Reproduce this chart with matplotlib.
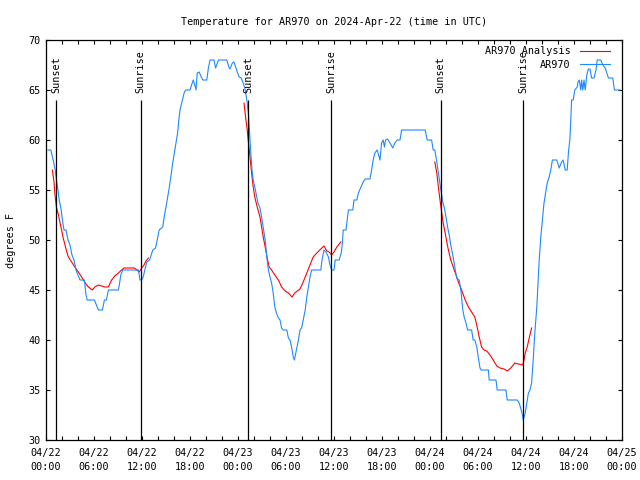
import numpy as np
import pandas as pd
import matplotlib
matplotlib.use('Agg')
import matplotlib.pyplot as plt
import matplotlib.dates as mdates

# hours after 2024-04-22 00:00 UTC
obs_hours = [0.25, 0.6, 0.9, 1.15, 1.3, 1.5, 1.65, 1.9, 2.05, 2.25, 2.5, 2.75, 3.0, 3.25, 3.5, 3.75, 4.0, 4.25,
             4.8, 5.0, 5.15, 6.05, 6.3, 6.55, 7.05, 7.3, 7.55, 7.8, 9.05, 9.2, 9.35, 9.6, 11.55, 11.75, 11.95,
             12.15, 12.35, 12.6, 12.95, 13.15, 13.35, 13.7, 13.9, 14.15, 14.6, 14.75, 15.0, 15.4, 15.6, 15.8,
             16.0, 16.2, 16.45, 16.6, 16.75, 17.05, 17.3, 17.5, 18.0, 18.2, 18.4, 18.6, 18.75, 18.9, 19.15,
             19.35, 19.6, 20.1, 20.3, 20.5, 21.0, 21.2, 21.55, 22.6, 22.9, 23.0, 23.3, 23.5, 23.75, 23.95,
             24.15, 24.4, 24.6, 24.8, 24.9, 25.1, 25.3, 25.4, 25.5, 25.6, 25.75, 25.9, 26.1, 26.3, 26.5, 26.75,
             26.95, 27.15, 27.4, 27.6, 27.8, 28.0, 28.2, 28.4, 28.6, 28.8, 29.05, 29.25, 29.45, 29.65, 30.1,
             30.3, 30.5, 30.7, 30.9, 31.05, 31.25, 31.55, 31.75, 31.95, 32.15, 32.4, 32.6, 32.8, 33.0, 33.2,
             34.35, 34.5, 34.75, 35.0, 35.3, 35.5, 35.7, 36.0, 36.15, 36.65, 36.9, 37.05, 37.15, 37.5, 37.65,
             37.8, 38.35, 38.5, 38.85, 39.05, 39.65, 39.9, 40.5, 40.7, 40.9, 41.1, 41.4, 41.65, 41.75, 41.95,
             42.15, 42.3, 42.45, 42.7, 43.0, 43.35, 43.6, 43.9, 44.25, 44.45, 47.4, 47.65, 48.2, 48.4, 48.6,
             48.85, 49.05, 49.4, 49.6, 49.8, 50.0, 50.2, 50.4, 50.6, 50.8, 51.0, 51.2, 51.4, 51.65, 51.9, 52.1,
             52.3, 52.5, 52.7, 53.2, 53.4, 53.6, 53.85, 54.05, 54.25, 54.4, 55.3, 55.4, 56.25, 56.4, 57.5,
             57.65, 58.9, 59.15, 59.4, 59.6, 59.65, 59.9, 60.1, 60.3, 60.5, 60.7, 60.9, 61.1, 61.35, 61.55,
             61.65, 61.85, 62.05, 62.25, 62.45, 62.65, 62.9, 63.1, 63.3, 63.85, 64.15, 64.45, 64.65, 64.9,
             65.15, 65.3, 65.5, 65.7, 65.9, 66.1, 66.4, 66.5, 66.65, 66.85, 66.95, 67.1, 67.25, 67.4, 67.6,
             67.8, 68.0, 68.2, 68.5, 68.75, 68.9, 69.35, 69.6, 69.9, 70.1, 70.3, 70.85, 71.05, 71.75]
obs_temp = [59, 59, 58, 57, 56, 55, 54, 53, 52, 51, 51, 50, 49.5, 48.5, 48, 47, 46.5, 46,
            46, 44.5, 44, 44, 43.5, 43, 43, 44, 44, 45, 45, 45.7, 46.5, 47, 47, 46, 46,
            46.3, 47, 47.8, 48, 48.5, 49, 49.2, 50, 51, 51.3, 52.2, 53.3, 55.2, 56.3, 57.5,
            58.5, 59.5, 60.7, 62, 63, 64, 64.8, 65, 65, 65.5, 66, 65.5, 65, 66.7, 66.8,
            66.4, 66, 66, 67.2, 68, 68, 67.2, 68, 68, 67.2, 67.1, 67.7, 67.8, 67.2, 66.7,
            66.3, 66.2, 65.8, 65.3, 65, 64, 62.7, 61.3, 60, 58.7, 57, 56, 55.3, 54.5, 53.7, 53.2,
            52.3, 51.3, 50, 48.3, 47, 46.3, 45.7, 44.7, 43.3, 42.7, 42.2, 42, 41.2, 41, 41,
            40.2, 40, 39.3, 38.3, 38, 38.8, 40, 41, 41.2, 42, 43, 44.3, 45.3, 46.3, 47,
            47, 48, 49, 48.8, 48.3, 47.5, 47, 47, 48, 48, 48.7, 49.7, 51, 51, 52,
            53, 53, 54, 54, 54.7, 55.8, 56.1, 56.1, 57, 58, 58.7, 59, 58.3, 58, 59.7,
            60, 59.3, 60, 60.1, 59.7, 59.2, 59.7, 60, 60, 61, 61, 60, 60, 59, 59,
            57.8, 56.7, 54.8, 53.8, 53.2, 52.3, 51.3, 50.5, 49.5, 48.7, 47.8, 46.8, 46.1, 46, 44.7,
            43, 42.2, 41.7, 41, 41, 40, 40, 39.3, 38.2, 37.2, 37, 37, 36, 36, 35,
            35, 34, 34, 33.7, 33, 32.3, 32, 32.7, 33.7, 34.7, 35, 35.7, 38, 40.7, 43.3, 46.3,
            48, 50.3, 52, 53.7, 54.7, 55.7, 56.3, 57, 58, 58, 57.2, 57.8, 58, 57,
            57, 58.7, 60.2, 64, 64, 65, 65.3, 65.8, 66, 65, 66, 65, 66, 65, 66.5,
            67.1, 67.1, 66.2, 66.2, 67, 68, 68, 67.5, 67.2, 66.7, 66.2, 66.2, 65, 65]

ana1_hours = [0.8, 1.0, 1.1, 1.3, 1.55, 1.95, 2.15, 2.6, 2.8, 3.2, 3.6, 4.05, 4.45, 4.9, 5.3, 5.8, 6.1,
              6.55, 6.95, 7.4, 7.8, 8.2, 8.6, 9.05, 9.45, 9.75, 11.05, 11.35, 11.65, 11.95, 12.25, 12.5, 12.8]
ana1_temp = [57, 55.8, 54.7, 53.3, 52.5, 51, 50.2, 48.8, 48.3, 47.8, 47.3, 46.8, 46.3, 45.7, 45.3, 45.0, 45.3,
             45.5, 45.4, 45.3, 45.3, 46, 46.4, 46.7, 47, 47.2, 47.2, 47.0, 46.8, 47.2, 47.5, 47.9, 48.2]
ana2_hours = [24.75, 24.95, 25.15, 25.3, 25.5, 25.7, 25.9, 26.1, 26.4, 26.75, 26.95, 27.15, 27.4, 27.65,
              27.9, 28.2, 28.6, 29.05, 29.45, 29.9, 30.3, 30.75, 31.1, 31.75, 32.15, 32.6, 33.0, 33.4,
              33.85, 34.35, 34.75, 35.1, 35.4, 35.7, 36.0, 36.35, 36.85]
ana2_temp = [63.7, 62.3, 61, 59.8, 58.3, 56.7, 55.3, 54.3, 53.3, 52.3, 51.3, 50.3, 49.3, 48.2,
             47.3, 47, 46.5, 46, 45.3, 44.9, 44.7, 44.3, 44.7, 45.1, 45.8, 46.7, 47.5, 48.3,
             48.7, 49.1, 49.4, 48.9, 48.8, 48.5, 48.8, 49.3, 49.8]
ana3_hours = [48.6, 48.85, 49.05, 49.25, 49.45, 49.65, 49.9, 50.1, 50.3, 50.6, 50.9, 51.25, 51.55, 51.95,
              52.4, 52.8, 53.2, 53.6, 53.9, 54.15, 54.45, 54.75, 55.1, 55.5, 55.9, 56.35, 56.75, 57.25,
              57.65, 58.1, 58.6, 59.05, 59.6, 59.75, 59.9, 60.15, 60.4, 60.7]
ana3_temp = [57.8, 56.7, 55.3, 54, 52.8, 51.7, 50.7, 49.8, 49, 48, 47.3, 46.5, 45.8, 45,
             44, 43.3, 42.8, 42.3, 41.3, 40.3, 39.3, 39, 38.9, 38.5, 38, 37.4, 37.2, 37.1,
             36.9, 37.2, 37.7, 37.6, 37.5, 38, 38.7, 39.3, 40.2, 41.2]

sunset_hours = [1.27, 25.3, 49.33]
sunrise_hours = [11.83, 35.67, 59.67]

start = pd.Timestamp('2024-04-22 00:00')


def t(hours):
    return start + pd.to_timedelta(np.array(hours), unit='h')


plt.rcParams['font.family'] = 'DejaVu Sans Mono'
plt.rcParams['font.size'] = 7.3

fig = plt.figure(figsize=(6.4, 4.8), dpi=100)
ax = fig.add_axes([46 / 640, 40 / 480, 576 / 640, 400 / 480])

ax.plot(t(ana1_hours), ana1_temp, color='red', lw=0.8, label='AR970 Analysis')
ax.plot(t(ana2_hours), ana2_temp, color='red', lw=0.8)
ax.plot(t(ana3_hours), ana3_temp, color='red', lw=0.8)
ax.plot(t(obs_hours), obs_temp, color='#1e88ff', lw=0.8, label='AR970')

for h in sunset_hours:
    ax.vlines(t([h])[0], 30, 64, color='black', lw=0.9)
    ax.text(t([h])[0], 64.7, 'Sunset', rotation=90, ha='center', va='bottom')
for h in sunrise_hours:
    ax.vlines(t([h])[0], 30, 64, color='black', lw=0.9)
    ax.text(t([h])[0], 64.7, 'Sunrise', rotation=90, ha='center', va='bottom')

ax.set_xlim(start, start + pd.Timedelta(hours=72))
ax.set_ylim(30, 70)
ax.set_yticks(range(30, 71, 5))
ax.xaxis.set_major_locator(mdates.HourLocator(byhour=range(0, 24, 6)))
ax.xaxis.set_minor_locator(mdates.HourLocator(byhour=range(0, 24, 2)))
ax.xaxis.set_major_formatter(mdates.DateFormatter('%m/%d\n%H:%M'))
ax.tick_params(which='both', direction='in', top=True, right=True, length=3, width=0.8)
ax.tick_params(axis='x', pad=6)
ax.tick_params(axis='y', pad=4)
for s in ax.spines.values():
    s.set_linewidth(0.9)

ax.set_ylabel('degrees F', labelpad=9)
ax.set_title('Temperature for AR970 on 2024-Apr-22 (time in UTC)', fontsize=7.3, pad=11)

ax.legend(loc='upper right', frameon=False, markerfirst=False, handlelength=3.0,
          borderaxespad=0.2, labelspacing=0.35, handletextpad=0.9, bbox_to_anchor=(0.99, 1.0))

fig.canvas.draw()
for lab in ax.get_xticklabels():
    lab.set_linespacing(1.5)

fig.savefig('out.png', dpi=100)
